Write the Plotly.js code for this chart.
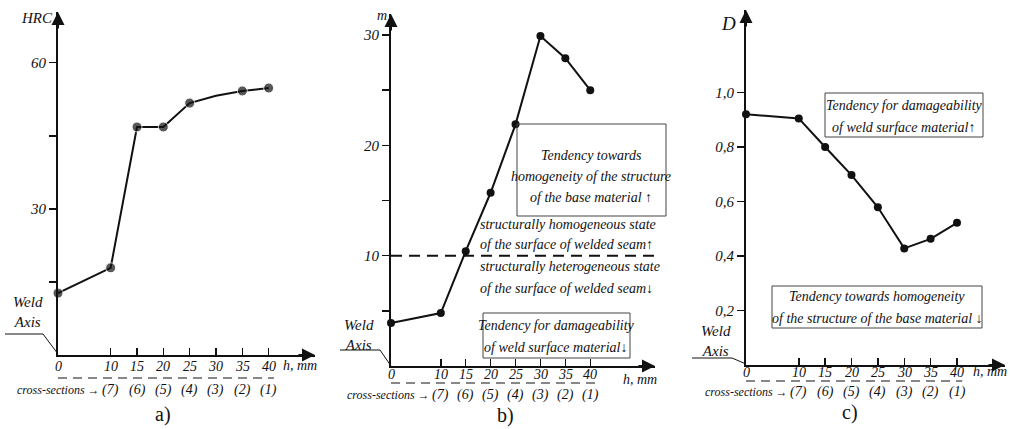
<!DOCTYPE html>
<html><head><meta charset="utf-8">
<script src="https://cdn.plot.ly/plotly-3.0.1.min.js"></script>
<style>html,body{margin:0;padding:0;background:#fff}#chart{width:1010px;height:429px}</style>
</head><body><div id="chart"></div>
<script>
// ---- data ----
const hSections = [0, 10, 15, 20, 25, 30, 35, 40];
const hrcValues = [12.7, 17.9, 46.8, 46.8, 51.7, 53.2, 54.2, 54.8];
const hrcMarkerShown = [1, 1, 1, 1, 1, 0, 1, 1];
const mValues = [3.9, 4.8, 10.4, 15.7, 21.9, 29.9, 27.9, 25.0];
const dValues = [0.92, 0.905, 0.80, 0.697, 0.579, 0.428, 0.463, 0.522];
const crossSectionLabels = ['(7)', '(6)', '(5)', '(4)', '(3)', '(2)', '(1)'];
const crossSectionPos = [10, 15, 20, 25, 30, 35, 40];
const xTickLabels = ['0', '10', '15', '20', '25', '30', '35', '40'];
const hrcTickVals = [15, 30, 45, 60];
const hrcTickText = ['', '30', '', '60'];
const mTickVals = [5, 10, 15, 20, 25, 30];
const mTickText = ['', '10', '', '20', '', '30'];
const dTickVals = [0.2, 0.4, 0.6, 0.8, 1.0];
const dTickText = ['0,2', '0,4', '0,6', '0,8', '1,0'];
const mThreshold = 10;

// ---- layout helpers ----
const W = 1010, H = 429;
const px = x => x / W;
const py = y => 1 - y / H;
const SERIF = 'Liberation Serif';
const INK = '#111';
const itf = (s) => ({family: SERIF, size: s, color: INK, style: 'italic'});
const C = {xanchor: 'center', yanchor: 'middle', showarrow: false};

// panel geometry (pixels)
const P = [
  {x0: 58, x1: 315, y0: 355, y1: 12, xr: 48.8, yr: 70.4, lab: 366, dash: 378, cs: 390, let: 414, letx: 163, hx: 300, hy: 365},
  {x0: 391, x1: 655, y0: 366, y1: 14, xr: 53, yr: 31.9, lab: 374, dash: 383, cs: 395, let: 415, letx: 505, hx: 640, hy: 379},
  {x0: 746, x1: 1005, y0: 365, y1: 10, xr: 49.1, yr: 1.303, lab: 372, dash: 381, cs: 392, let: 412, letx: 850, hx: 990, hy: 371}
];

const series = [hrcValues, mValues, dValues];
const traces = series.map((vals, i) => ({
  x: hSections, y: vals, type: 'scatter', mode: 'lines+markers',
  xaxis: i ? 'x' + (i + 1) : 'x', yaxis: i ? 'y' + (i + 1) : 'y',
  line: {color: INK, width: 2},
  marker: {color: INK, size: i === 0 ? hrcMarkerShown.map(v => v ? 10 : 0) : 8},
  showlegend: false, hoverinfo: 'skip', cliponaxis: false
}));

const layout = {
  width: W, height: H, margin: {l: 0, r: 0, t: 0, b: 0},
  paper_bgcolor: '#fff', plot_bgcolor: 'rgba(0,0,0,0)',
  showlegend: false, annotations: [], shapes: []
};
const yTicks = [[hrcTickVals, hrcTickText], [mTickVals, mTickText], [dTickVals, dTickText]];
P.forEach((p, i) => {
  const xs = i ? 'xaxis' + (i + 1) : 'xaxis';
  const ys = i ? 'yaxis' + (i + 1) : 'yaxis';
  const xa = i ? 'x' + (i + 1) : 'x';
  const ya = i ? 'y' + (i + 1) : 'y';
  layout[xs] = {
    domain: [px(p.x0), px(p.x1)], range: [0, p.xr], anchor: ya,
    showline: true, linecolor: INK, linewidth: 2, showgrid: false, zeroline: false,
    tickvals: hSections, ticks: 'inside', ticklen: 7, tickwidth: 1.5, tickcolor: INK,
    showticklabels: false, fixedrange: true
  };
  layout[ys] = {
    domain: [py(p.y0), py(p.y1)], range: [0, p.yr], anchor: xa,
    showline: true, linecolor: INK, linewidth: 2, showgrid: false, zeroline: false,
    tickvals: yTicks[i][0], ticktext: yTicks[i][1], ticks: 'outside', ticklen: 7, tickwidth: 1.5, tickcolor: INK,
    tickfont: itf(15), fixedrange: true
  };
  // x tick labels placed close under the axis
  hSections.forEach((h, k) => {
    layout.annotations.push(Object.assign({xref: xa, yref: 'paper', x: h, y: py(p.lab), text: xTickLabels[k],
      font: itf(14)}, C));
  });
  // axis arrows
  layout.annotations.push({xref: 'paper', yref: 'paper', x: px(p.x0), y: py(p.y1), ax: 0, ay: 18, text: '',
    showarrow: true, arrowhead: 2, arrowsize: 1.3, arrowwidth: 2, arrowcolor: INK});
  layout.annotations.push({xref: 'paper', yref: 'paper', x: px(p.x1), y: py(p.y0), ax: -18, ay: 0, text: '',
    showarrow: true, arrowhead: 2, arrowsize: 1.3, arrowwidth: 2, arrowcolor: INK});
  // h, mm
  layout.annotations.push(Object.assign({xref: 'paper', yref: 'paper', x: px(p.hx), y: py(p.hy), text: 'h, mm',
    font: itf(14)}, C));
  // cross-section dashes
  layout.shapes.push({type: 'line', xref: xa, yref: 'paper', x0: 0, x1: 41, y0: py(p.dash), y1: py(p.dash),
    line: {color: INK, width: 1.2, dash: '9px,6px'}});
  crossSectionLabels.forEach((t, k) => {
    layout.annotations.push(Object.assign({xref: xa, yref: 'paper', x: crossSectionPos[k], y: py(p.cs), text: t,
      font: itf(14)}, C));
  });
  layout.annotations.push(Object.assign({xref: xa, yref: 'paper', x: 8.3, y: py(p.cs), text: 'cross-sections →',
    font: itf(12)}, C, {xanchor: 'right'}));
  // panel letter
  layout.annotations.push(Object.assign({xref: 'paper', yref: 'paper', x: px(p.letx), y: py(p.let), text: ['a)', 'b)', 'c)'][i],
    font: {family: SERIF, size: 20, color: INK}}, C));
});

// Weld Axis labels and leaders
const weld = [
  {tx: 28, ty: 312, path: [[5, 334], [43, 334], [58, 354]]},
  {tx: 359, ty: 335, path: [[340, 350], [380, 350], [391, 366]]},
  {tx: 716, ty: 341, path: [[692, 358], [732, 358], [746, 364]]}
];
weld.forEach(w => {
  layout.annotations.push(Object.assign({xref: 'paper', yref: 'paper', x: px(w.tx), y: py(w.ty), text: 'Weld<br>Axis',
    font: itf(15)}, C));
  layout.shapes.push({type: 'path', xref: 'paper', yref: 'paper',
    path: 'M' + w.path.map(q => px(q[0]) + ',' + py(q[1])).join(' L'), line: {color: INK, width: 1}});
});

// axis names
layout.annotations.push(Object.assign({xref: 'paper', yref: 'paper', x: px(37), y: py(18), text: 'HRC', font: itf(15)}, C));
layout.annotations.push(Object.assign({xref: 'paper', yref: 'paper', x: px(382), y: py(16), text: 'm', font: itf(14)}, C));
layout.annotations.push(Object.assign({xref: 'paper', yref: 'paper', x: px(728), y: py(24), text: 'D', font: itf(19)}, C));

// threshold dashed line in panel b
layout.shapes.push({type: 'line', xref: 'x2', yref: 'y2', x0: 0, x1: 55.4, y0: mThreshold, y1: mThreshold,
  line: {color: INK, width: 2, dash: '11px,7px'}});

// framed notes (frame in pixels, lines centred)
const boxes = [
  {r: [517, 124, 666, 216], cx: 591, lines: [['Tendency towards', 155], ['homogeneity of the structure', 176], ['of the base material ↑', 197]]},
  {r: [483, 313, 630, 358], cx: 556, lines: [['Tendency for damageability', 325], ['of weld surface material↓', 347]]},
  {r: [825, 93, 983, 137], cx: 904, lines: [['Tendency for damageability', 105], ['of weld surface material↑', 127]]},
  {r: [772, 286, 982, 328], cx: 877, lines: [['Tendency towards homogeneity', 296], ['of the structure of the base material ↓', 318]]}
];
boxes.forEach(b => {
  layout.shapes.push({type: 'rect', xref: 'paper', yref: 'paper', x0: px(b.r[0]), x1: px(b.r[2]), y0: py(b.r[3]), y1: py(b.r[1]),
    line: {color: '#444', width: 1}, fillcolor: 'rgba(0,0,0,0)'});
  b.lines.forEach(l => layout.annotations.push(Object.assign({xref: 'paper', yref: 'paper', x: px(b.cx), y: py(l[1]), text: l[0],
    font: itf(14)}, C)));
});
const notes = [
  ['structurally homogeneous state', 12.8],
  ['of the surface of welded seam↑', 11.0],
  ['structurally heterogeneous state', 9.0],
  ['of the surface of welded seam↓', 7.0]
];
notes.forEach(n => layout.annotations.push(Object.assign({xref: 'x2', yref: 'y2', x: 17.5, y: n[1], text: n[0],
  font: itf(14)}, C, {xanchor: 'left'})));

Plotly.newPlot('chart', traces, layout, {staticPlot: true, displayModeBar: false});
</script></body></html>
